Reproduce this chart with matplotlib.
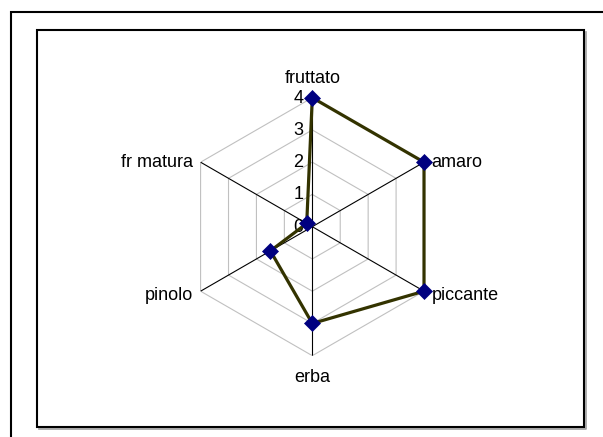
import numpy as np
import matplotlib
matplotlib.use("Agg")
import matplotlib.pyplot as plt
from matplotlib.patches import Rectangle
from matplotlib.lines import Line2D

categories = ["fruttato", "amaro", "piccante", "erba", "pinolo", "fr matura"]
values = [4, 4, 4, 3, 1.5, 0.2]
ticks = [0, 1, 2, 3, 4]

plt.rcParams['font.family'] = ['Liberation Sans', 'DejaVu Sans']

W, H = 603, 437
fig = plt.figure(figsize=(W / 100, H / 100), dpi=100)
fig.patch.set_facecolor('white')

# frames
outer = Rectangle((11 / W, -0.2), 1.2, 0.2 + (1 - 12 / H), transform=fig.transFigure,
                  fill=False, lw=1.5, ec='black', zorder=-5)
fig.add_artist(outer)
x0, y0 = 37 / W, 1 - 427 / H
bw, bh = (584 - 37) / W, (427 - 30) / H
dx, dy = 1.8 / W, 1.8 / H
shadow = Line2D([x0 + dx, x0 + bw + dx, x0 + bw + dx],
                [y0 - dy, y0 - dy, y0 + bh - dy], transform=fig.transFigure,
                lw=1.2, color='#a0a0a0', zorder=-5)
fig.add_artist(shadow)
inner = Rectangle((x0, y0), bw, bh, transform=fig.transFigure,
                  fill=False, lw=1.5, ec='black', zorder=-4)
fig.add_artist(inner)

cx, cy, R = 312.3, 226.7, 129.0
ax = fig.add_axes([(cx - R) / W, 1 - (cy + R) / H, 2 * R / W, 2 * R / H], projection='polar')
ax.set_theta_offset(np.pi / 2)
ax.set_theta_direction(-1)
ax.set_ylim(0, max(ticks))
ax.set_axis_off()

n = len(categories)
angles = np.arange(n) * 2 * np.pi / n
closed = np.concatenate([angles, angles[:1]])

# grid hexagons
for t in ticks[1:]:
    ax.plot(closed, [t] * (n + 1), color='#c0c0c0', lw=0.8, zorder=1)
# spokes
for a in angles:
    ax.plot([a, a], [0, max(ticks)], color='black', lw=0.8, zorder=2)

# tick labels
for t in ticks:
    ax.annotate(str(t), xy=(0, t), xytext=(-6.5, -3.5), textcoords='offset points',
                ha='right', va='baseline', fontsize=13, zorder=3)

# data
vals = np.array(values + values[:1])
ax.plot(closed, vals, color='#333300', lw=2.3, zorder=4)
ax.plot(angles, values, linestyle='none', marker='D', markersize=8.5,
        color='#000080', mec='#000080', mew=0.5, zorder=5, clip_on=False)

# category labels
offsets = {
    "fruttato": ((0, 10.6), 'center'),
    "amaro": ((5.5, -3.5), 'left'),
    "piccante": ((5.5, -6.3), 'left'),
    "erba": ((0, -19), 'center'),
    "pinolo": ((-5.7, -6.3), 'right'),
    "fr matura": ((-5.5, -3.5), 'right'),
}
for a, c in zip(angles, categories):
    off, ha = offsets[c]
    ax.annotate(c, xy=(a, max(ticks)), xytext=off, textcoords='offset points',
                ha=ha, va='baseline', fontsize=13, zorder=6, annotation_clip=False)

fig.savefig('out.png', dpi=100, facecolor='white')
